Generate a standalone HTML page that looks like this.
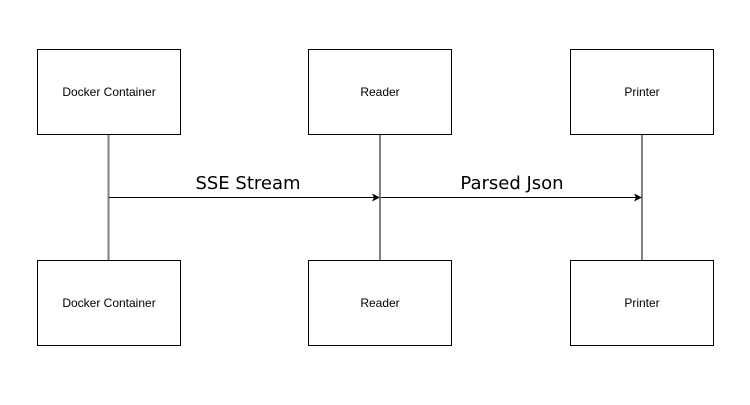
<!DOCTYPE html>
<html><head><style>body{margin:0;background:#fff}</style></head><body>
<svg width="750" height="400" xmlns="http://www.w3.org/2000/svg">
<rect width="750" height="400" fill="#fff"/>
<g stroke="#808080" stroke-width="2">
<line x1="108.5" y1="134" x2="108.5" y2="260"/>
<line x1="380" y1="134" x2="380" y2="260"/>
<line x1="642" y1="134" x2="642" y2="260"/>
</g>
<g fill="#fff" stroke="#000" stroke-width="1">
<rect x="37.5" y="49.5" width="143" height="85"/>
<rect x="308.5" y="49.5" width="143" height="85"/>
<rect x="570.5" y="49.5" width="143" height="85"/>
<rect x="37.5" y="260.5" width="143" height="85"/>
<rect x="308.5" y="260.5" width="143" height="85"/>
<rect x="570.5" y="260.5" width="143" height="85"/>
</g>
<g stroke="#000" stroke-width="1">
<line x1="109" y1="197.5" x2="374" y2="197.5"/>
<line x1="381" y1="197.5" x2="636" y2="197.5"/>
</g>
<path d="M380,197.5 L372,193.5 L374,197.5 L372,201.5 Z" fill="#000"/>
<path d="M642,197.5 L634,193.5 L636,197.5 L634,201.5 Z" fill="#000"/>
<g font-family="Liberation Sans, sans-serif" font-size="12" text-anchor="middle" fill="#000">
<text x="109" y="96">Docker Container</text>
<text x="380" y="96">Reader</text>
<text x="642" y="96">Printer</text>
<text x="109" y="307">Docker Container</text>
<text x="380" y="307">Reader</text>
<text x="642" y="307">Printer</text>
</g>
<g font-family="DejaVu Sans, sans-serif" font-size="18" text-anchor="middle" fill="#000">
<text x="248" y="189">SSE Stream</text>
<text x="512" y="189">Parsed Json</text>
</g>
</svg>
</body></html>
